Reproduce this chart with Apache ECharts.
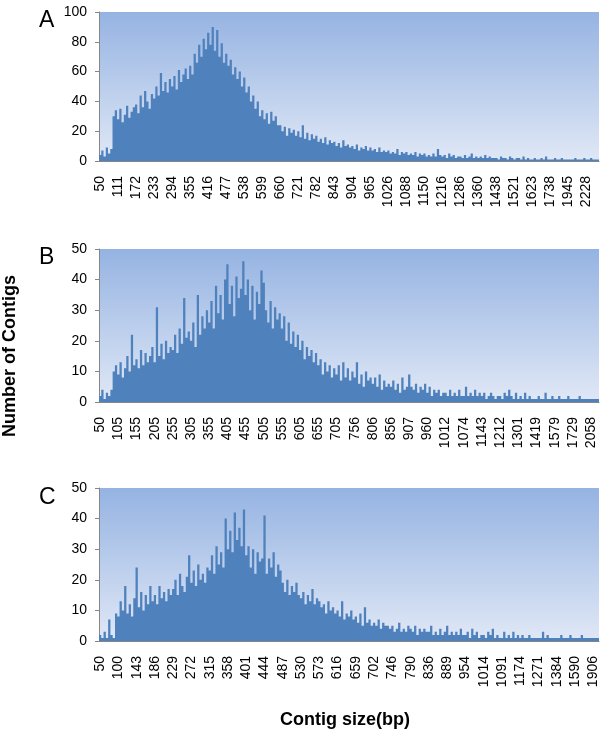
<!DOCTYPE html>
<html>
<head>
<meta charset="utf-8">
<script src="https://cdn.jsdelivr.net/npm/echarts@6/dist/echarts.min.js"></script>
<style>
html,body{margin:0;padding:0;background:#fff;}
#chart{width:600px;height:729px;}
</style>
</head>
<body>
<div id="chart"></div>
<script>
// Tick labels (contig sizes shown on the x axes)
const labelsA = ['50','111','172','233','294','355','416','477','538','599','660','721','782','843','904','965','1026','1088','1150','1216','1286','1360','1438','1521','1623','1738','1945','2228'];
const labelsB = ['50','105','155','205','255','305','355','405','455','505','555','605','655','705','756','806','856','907','960','1012','1074','1143','1212','1301','1419','1579','1729','2058'];
const labelsC = ['50','100','143','186','229','272','315','358','401','444','487','530','573','616','659','702','746','790','836','889','954','1014','1091','1174','1271','1384','1590','1906'];

// Number of contigs (8 bars between consecutive tick labels)
const countsA = [
  4,7,3,9,5,8,30,34,
  28,35,26,31,37,29,33,36,
  38,32,44,36,47,40,35,45,
  42,50,44,59,47,53,46,55,
  50,57,48,61,53,58,62,55,
  64,58,72,66,78,70,82,75,
  86,78,90,74,88,70,79,66,
  72,64,68,58,63,55,60,50,
  56,46,50,40,44,35,40,30,
  34,28,32,25,33,27,30,24,
  24,20,23,17,22,19,21,17,
  20,16,24,15,19,14,18,15,
  17,13,15,12,16,11,14,12,
  13,10,12,9,14,10,11,9,
  10,8,11,7,9,8,10,7,
  9,7,8,6,9,6,7,6,
  7,5,6,5,8,4,6,5,
  6,4,5,4,6,3,5,4,
  5,3,4,3,5,3,8,4,
  3,4,2,5,3,4,2,3,
  3,2,4,2,3,5,2,3,
  2,3,2,4,2,3,2,2,
  2,1,3,2,2,1,3,2,
  1,2,2,1,3,1,2,1,
  1,2,1,1,2,1,3,1,
  1,1,2,1,1,2,1,1,
  1,1,1,2,1,1,1,2,
  1,1,2,1,1,1
];
const countsB = [
  2,4,1,3,2,4,10,12,
  9,13,8,11,15,10,22,12,
  14,11,17,12,16,13,15,18,
  13,31,15,19,14,20,16,18,
  17,22,16,24,19,34,21,23,
  20,26,18,35,22,28,24,30,
  26,33,24,38,29,35,27,40,
  45,32,38,28,41,34,37,46,
  35,40,30,38,27,36,32,43,
  39,30,26,33,24,31,27,29,
  24,28,20,26,19,23,18,22,
  17,20,14,18,15,17,13,16,
  12,14,9,13,10,12,8,11,
  9,12,7,13,8,11,7,10,
  8,13,6,9,5,10,7,8,
  6,8,5,9,4,7,5,6,
  5,7,4,6,3,8,4,5,
  9,5,4,6,3,5,4,6,
  3,5,2,4,3,4,2,3,
  3,2,4,2,3,2,4,2,
  2,5,2,3,2,4,2,3,
  2,3,1,2,3,2,1,2,
  2,1,3,2,4,2,1,3,
  1,2,1,3,1,2,1,1,
  1,2,1,1,3,1,1,2,
  1,1,2,1,1,1,2,1,
  1,1,1,2,1,1,1,1,
  1,1,1,1
];
const countsC = [
  2,1,3,1,7,2,1,9,
  8,13,10,18,9,12,8,14,
  24,11,16,10,15,12,18,13,
  15,12,18,14,16,13,17,15,
  17,20,15,22,18,16,21,28,
  19,23,18,25,20,22,19,24,
  23,28,22,31,25,29,24,40,
  30,36,29,42,33,37,31,43,
  28,31,24,30,22,29,26,27,
  41,22,27,24,29,21,25,23,
  19,16,20,15,18,16,19,15,
  14,16,12,15,13,17,12,14,
  13,11,12,9,13,10,11,9,
  10,8,13,7,9,8,10,7,
  8,6,9,5,11,6,7,5,
  6,5,7,4,6,5,5,4,
  5,3,4,6,3,4,3,5,
  4,3,5,2,4,3,4,3,
  3,5,2,3,2,4,2,3,
  5,2,3,2,3,2,4,2,
  2,3,1,4,2,3,1,2,
  2,1,3,2,4,1,2,1,
  1,3,1,2,1,3,1,2,
  1,2,1,1,2,1,1,1,
  1,1,3,1,2,1,1,1,
  1,1,2,1,1,1,2,1,
  1,1,1,2,1,1,1,1,
  1,1,1
];
const panelLetters = ['A','B','C'];
const yMax = [100, 50, 50];
const yStep = [20, 10, 10];

const STEP = 8;
function buildCats(labels, n){
  const out = [];
  for (let j = 0; j < n; j++) {
    const k = Math.floor(j / STEP);
    out.push(j % STEP === 0 ? labels[k] : labels[k] + '\u200b' + (j % STEP));
  }
  return out;
}

const FONT = 'Liberation Sans, Arial, sans-serif';
const grids = [
  {left: 99, width: 500, top: 12, height: 149},
  {left: 99, width: 500, top: 249, height: 153},
  {left: 99, width: 500, top: 488, height: 153}
].map(g => Object.assign(g, {
  show: true,
  borderWidth: 0,
  outerBoundsMode: 'none',
  backgroundColor: {type: 'linear', x: 0, y: 0, x2: 0, y2: 1,
    colorStops: [{offset: 0, color: '#95b3e2'}, {offset: 1, color: '#e0e8f6'}]}
}));

const allLabels = [labelsA, labelsB, labelsC];
const allCounts = [countsA, countsB, countsC];

const xAxes = allLabels.map((lab, i) => ({
  type: 'category', gridIndex: i,
  data: buildCats(lab, allCounts[i].length),
  boundaryGap: true,
  axisLine: {show: true, lineStyle: {color: '#868686'}},
  axisTick: {show: false},
  axisLabel: {interval: STEP - 1, rotate: 90, margin: 15, fontSize: 14, color: '#000', fontFamily: FONT,
    formatter: v => v.indexOf('\u200b') >= 0 ? '' : v}
}));
const yAxes = yMax.map((m, i) => ({
  type: 'value', gridIndex: i, min: 0, max: m, interval: yStep[i],
  axisLine: {show: true, lineStyle: {color: '#868686'}},
  axisTick: {show: true, length: 4, lineStyle: {color: '#868686'}},
  splitLine: {show: false},
  axisLabel: {fontSize: 14, color: '#000', margin: 12, fontFamily: FONT}
}));
const series = allCounts.map((c, i) => ({
  type: 'bar', xAxisIndex: i, yAxisIndex: i, data: c,
  barCategoryGap: '0%', barGap: '0%',
  large: true, largeThreshold: 50,
  itemStyle: {color: '#4f81bd'},
  animation: false, silent: true
}));

const letterTops = [4, 241, 481];
const chart = echarts.init(document.getElementById('chart'));
chart.setOption({
  animation: false,
  title: panelLetters.map((t, i) => ({
    text: t, left: 34, top: letterTops[i],
    textStyle: {fontSize: 23, fontWeight: 'normal', color: '#000', fontFamily: FONT}
  })).concat([{
    text: 'Contig size(bp)', left: 275, top: 706,
    textStyle: {fontSize: 18, fontWeight: 'bold', color: '#000', fontFamily: FONT}
  }]),
  grid: grids,
  xAxis: xAxes,
  yAxis: yAxes,
  series: series,
  graphic: [{
    type: 'text', x: 10, y: 356, rotation: Math.PI / 2,
    style: {text: 'Number of Contigs', fontSize: 18, fontWeight: 'bold', fill: '#000',
      fontFamily: FONT, align: 'center', verticalAlign: 'middle'}
  }]
});
</script>
</body>
</html>
